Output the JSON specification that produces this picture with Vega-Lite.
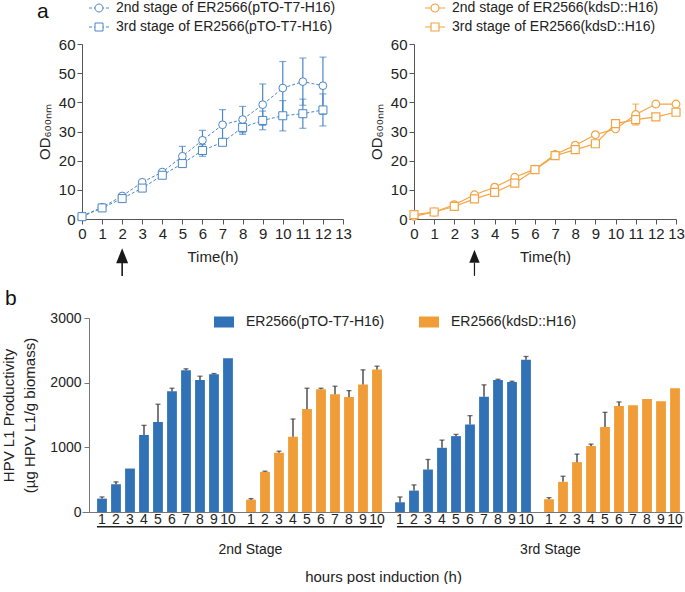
{
  "$schema": "https://vega.github.io/schema/vega-lite/v6.json",
  "padding": {"left": 1, "top": 1, "right": 0, "bottom": 0},
  "background": "white",
  "config": {
    "font": "Liberation Sans",
    "view": {"stroke": null},
    "axis": {"grid": false, "labelFont": "Liberation Sans", "titleFont": "Liberation Sans", "titleFontWeight": "normal", "labelColor": "#222", "titleColor": "#222", "domainColor": "#555", "tickColor": "#555", "tickSize": 5, "labelFlush": false, "labelOverlap": false},
    "legend": {"labelFont": "Liberation Sans", "labelColor": "#222"},
    "title": {"font": "Liberation Sans", "fontWeight": "normal", "color": "#111"}
  },
  "datasets": {
    "induction": [
      {"panel": "pTO", "time": 2},
      {"panel": "kds", "time": 3}
    ],
    "growth": [
      {"panel": "pTO", "stage": "2nd", "series": "2nd stage of ER2566(pTO-T7-H16)", "time": 0, "od": 1.0, "lo": 0.7, "hi": 1.3},
      {"panel": "pTO", "stage": "2nd", "series": "2nd stage of ER2566(pTO-T7-H16)", "time": 1, "od": 4.0, "lo": 3.6, "hi": 4.4},
      {"panel": "pTO", "stage": "2nd", "series": "2nd stage of ER2566(pTO-T7-H16)", "time": 2, "od": 7.9, "lo": 7.4, "hi": 8.4},
      {"panel": "pTO", "stage": "2nd", "series": "2nd stage of ER2566(pTO-T7-H16)", "time": 3, "od": 12.6, "lo": 12.1, "hi": 13.1},
      {"panel": "pTO", "stage": "2nd", "series": "2nd stage of ER2566(pTO-T7-H16)", "time": 4, "od": 16.1, "lo": 15.6, "hi": 16.6},
      {"panel": "pTO", "stage": "2nd", "series": "2nd stage of ER2566(pTO-T7-H16)", "time": 5, "od": 21.5, "lo": 18.1, "hi": 24.9},
      {"panel": "pTO", "stage": "2nd", "series": "2nd stage of ER2566(pTO-T7-H16)", "time": 6, "od": 27.0, "lo": 23.6, "hi": 30.4},
      {"panel": "pTO", "stage": "2nd", "series": "2nd stage of ER2566(pTO-T7-H16)", "time": 7, "od": 32.3, "lo": 27.1, "hi": 37.5},
      {"panel": "pTO", "stage": "2nd", "series": "2nd stage of ER2566(pTO-T7-H16)", "time": 8, "od": 34.1, "lo": 29.6, "hi": 38.6},
      {"panel": "pTO", "stage": "2nd", "series": "2nd stage of ER2566(pTO-T7-H16)", "time": 9, "od": 39.2, "lo": 32.1, "hi": 46.3},
      {"panel": "pTO", "stage": "2nd", "series": "2nd stage of ER2566(pTO-T7-H16)", "time": 10, "od": 44.9, "lo": 35.8, "hi": 54.0},
      {"panel": "pTO", "stage": "2nd", "series": "2nd stage of ER2566(pTO-T7-H16)", "time": 11, "od": 47.1, "lo": 39.0, "hi": 55.2},
      {"panel": "pTO", "stage": "2nd", "series": "2nd stage of ER2566(pTO-T7-H16)", "time": 12, "od": 45.7, "lo": 35.9, "hi": 55.5},
      {"panel": "pTO", "stage": "3rd", "series": "3rd stage of ER2566(pTO-T7-H16)", "time": 0, "od": 0.8, "lo": 0.5, "hi": 1.1},
      {"panel": "pTO", "stage": "3rd", "series": "3rd stage of ER2566(pTO-T7-H16)", "time": 1, "od": 3.8, "lo": 3.5, "hi": 4.1},
      {"panel": "pTO", "stage": "3rd", "series": "3rd stage of ER2566(pTO-T7-H16)", "time": 2, "od": 7.0, "lo": 6.6, "hi": 7.4},
      {"panel": "pTO", "stage": "3rd", "series": "3rd stage of ER2566(pTO-T7-H16)", "time": 3, "od": 10.6, "lo": 10.1, "hi": 11.1},
      {"panel": "pTO", "stage": "3rd", "series": "3rd stage of ER2566(pTO-T7-H16)", "time": 4, "od": 15.0, "lo": 14.5, "hi": 15.5},
      {"panel": "pTO", "stage": "3rd", "series": "3rd stage of ER2566(pTO-T7-H16)", "time": 5, "od": 19.0, "lo": 18.0, "hi": 20.0},
      {"panel": "pTO", "stage": "3rd", "series": "3rd stage of ER2566(pTO-T7-H16)", "time": 6, "od": 23.5, "lo": 21.5, "hi": 25.5},
      {"panel": "pTO", "stage": "3rd", "series": "3rd stage of ER2566(pTO-T7-H16)", "time": 7, "od": 26.3, "lo": 25.5, "hi": 27.1},
      {"panel": "pTO", "stage": "3rd", "series": "3rd stage of ER2566(pTO-T7-H16)", "time": 8, "od": 31.4, "lo": 29.0, "hi": 33.8},
      {"panel": "pTO", "stage": "3rd", "series": "3rd stage of ER2566(pTO-T7-H16)", "time": 9, "od": 33.8, "lo": 30.6, "hi": 37.0},
      {"panel": "pTO", "stage": "3rd", "series": "3rd stage of ER2566(pTO-T7-H16)", "time": 10, "od": 35.4, "lo": 30.2, "hi": 40.6},
      {"panel": "pTO", "stage": "3rd", "series": "3rd stage of ER2566(pTO-T7-H16)", "time": 11, "od": 36.1, "lo": 31.1, "hi": 41.1},
      {"panel": "pTO", "stage": "3rd", "series": "3rd stage of ER2566(pTO-T7-H16)", "time": 12, "od": 37.4, "lo": 31.9, "hi": 42.9},
      {"panel": "kds", "stage": "2nd", "series": "2nd stage of ER2566(kdsD::H16)", "time": 0, "od": 0.9, "lo": 0.6, "hi": 1.2},
      {"panel": "kds", "stage": "2nd", "series": "2nd stage of ER2566(kdsD::H16)", "time": 1, "od": 2.4, "lo": 2.1, "hi": 2.7},
      {"panel": "kds", "stage": "2nd", "series": "2nd stage of ER2566(kdsD::H16)", "time": 2, "od": 4.9, "lo": 4.6, "hi": 5.2},
      {"panel": "kds", "stage": "2nd", "series": "2nd stage of ER2566(kdsD::H16)", "time": 3, "od": 8.3, "lo": 8.0, "hi": 8.6},
      {"panel": "kds", "stage": "2nd", "series": "2nd stage of ER2566(kdsD::H16)", "time": 4, "od": 10.9, "lo": 10.6, "hi": 11.2},
      {"panel": "kds", "stage": "2nd", "series": "2nd stage of ER2566(kdsD::H16)", "time": 5, "od": 14.3, "lo": 14.0, "hi": 14.6},
      {"panel": "kds", "stage": "2nd", "series": "2nd stage of ER2566(kdsD::H16)", "time": 6, "od": 17.1, "lo": 16.8, "hi": 17.4},
      {"panel": "kds", "stage": "2nd", "series": "2nd stage of ER2566(kdsD::H16)", "time": 7, "od": 22.1, "lo": 21.3, "hi": 22.9},
      {"panel": "kds", "stage": "2nd", "series": "2nd stage of ER2566(kdsD::H16)", "time": 8, "od": 25.3, "lo": 24.5, "hi": 26.1},
      {"panel": "kds", "stage": "2nd", "series": "2nd stage of ER2566(kdsD::H16)", "time": 9, "od": 28.9, "lo": 28.5, "hi": 29.3},
      {"panel": "kds", "stage": "2nd", "series": "2nd stage of ER2566(kdsD::H16)", "time": 10, "od": 30.9, "lo": 30.3, "hi": 31.5},
      {"panel": "kds", "stage": "2nd", "series": "2nd stage of ER2566(kdsD::H16)", "time": 11, "od": 35.8, "lo": 32.2, "hi": 39.4},
      {"panel": "kds", "stage": "2nd", "series": "2nd stage of ER2566(kdsD::H16)", "time": 12, "od": 39.4, "lo": 39.1, "hi": 39.7},
      {"panel": "kds", "stage": "2nd", "series": "2nd stage of ER2566(kdsD::H16)", "time": 13, "od": 39.4, "lo": 39.1, "hi": 39.7},
      {"panel": "kds", "stage": "3rd", "series": "3rd stage of ER2566(kdsD::H16)", "time": 0, "od": 1.5, "lo": 1.2, "hi": 1.8},
      {"panel": "kds", "stage": "3rd", "series": "3rd stage of ER2566(kdsD::H16)", "time": 1, "od": 2.4, "lo": 2.1, "hi": 2.7},
      {"panel": "kds", "stage": "3rd", "series": "3rd stage of ER2566(kdsD::H16)", "time": 2, "od": 4.3, "lo": 4.0, "hi": 4.6},
      {"panel": "kds", "stage": "3rd", "series": "3rd stage of ER2566(kdsD::H16)", "time": 3, "od": 6.9, "lo": 6.6, "hi": 7.2},
      {"panel": "kds", "stage": "3rd", "series": "3rd stage of ER2566(kdsD::H16)", "time": 4, "od": 9.1, "lo": 8.8, "hi": 9.4},
      {"panel": "kds", "stage": "3rd", "series": "3rd stage of ER2566(kdsD::H16)", "time": 5, "od": 12.3, "lo": 12.0, "hi": 12.6},
      {"panel": "kds", "stage": "3rd", "series": "3rd stage of ER2566(kdsD::H16)", "time": 6, "od": 16.9, "lo": 16.6, "hi": 17.2},
      {"panel": "kds", "stage": "3rd", "series": "3rd stage of ER2566(kdsD::H16)", "time": 7, "od": 21.7, "lo": 21.0, "hi": 22.4},
      {"panel": "kds", "stage": "3rd", "series": "3rd stage of ER2566(kdsD::H16)", "time": 8, "od": 23.8, "lo": 23.2, "hi": 24.4},
      {"panel": "kds", "stage": "3rd", "series": "3rd stage of ER2566(kdsD::H16)", "time": 9, "od": 25.8, "lo": 25.4, "hi": 26.2},
      {"panel": "kds", "stage": "3rd", "series": "3rd stage of ER2566(kdsD::H16)", "time": 10, "od": 32.7, "lo": 32.0, "hi": 33.4},
      {"panel": "kds", "stage": "3rd", "series": "3rd stage of ER2566(kdsD::H16)", "time": 11, "od": 34.1, "lo": 32.6, "hi": 35.6},
      {"panel": "kds", "stage": "3rd", "series": "3rd stage of ER2566(kdsD::H16)", "time": 12, "od": 35.0, "lo": 34.7, "hi": 35.3},
      {"panel": "kds", "stage": "3rd", "series": "3rd stage of ER2566(kdsD::H16)", "time": 13, "od": 36.6, "lo": 36.3, "hi": 36.9}
    ],
    "prod": [
      {"stage": "2nd Stage", "strain": "ER2566(pTO-T7-H16)", "grp": "2nd|pTO", "hour": 1, "value": 207, "hi": 233},
      {"stage": "2nd Stage", "strain": "ER2566(pTO-T7-H16)", "grp": "2nd|pTO", "hour": 2, "value": 429, "hi": 466},
      {"stage": "2nd Stage", "strain": "ER2566(pTO-T7-H16)", "grp": "2nd|pTO", "hour": 3, "value": 672, "hi": null},
      {"stage": "2nd Stage", "strain": "ER2566(pTO-T7-H16)", "grp": "2nd|pTO", "hour": 4, "value": 1190, "hi": 1340},
      {"stage": "2nd Stage", "strain": "ER2566(pTO-T7-H16)", "grp": "2nd|pTO", "hour": 5, "value": 1391, "hi": 1666},
      {"stage": "2nd Stage", "strain": "ER2566(pTO-T7-H16)", "grp": "2nd|pTO", "hour": 6, "value": 1867, "hi": 1914},
      {"stage": "2nd Stage", "strain": "ER2566(pTO-T7-H16)", "grp": "2nd|pTO", "hour": 7, "value": 2193, "hi": 2214},
      {"stage": "2nd Stage", "strain": "ER2566(pTO-T7-H16)", "grp": "2nd|pTO", "hour": 8, "value": 2043, "hi": 2100},
      {"stage": "2nd Stage", "strain": "ER2566(pTO-T7-H16)", "grp": "2nd|pTO", "hour": 9, "value": 2131, "hi": 2141},
      {"stage": "2nd Stage", "strain": "ER2566(pTO-T7-H16)", "grp": "2nd|pTO", "hour": 10, "value": 2379, "hi": null},
      {"stage": "2nd Stage", "strain": "ER2566(kdsD::H16)", "grp": "2nd|kds", "hour": 1, "value": 191, "hi": 207},
      {"stage": "2nd Stage", "strain": "ER2566(kdsD::H16)", "grp": "2nd|kds", "hour": 2, "value": 621, "hi": 631},
      {"stage": "2nd Stage", "strain": "ER2566(kdsD::H16)", "grp": "2nd|kds", "hour": 3, "value": 916, "hi": 941},
      {"stage": "2nd Stage", "strain": "ER2566(kdsD::H16)", "grp": "2nd|kds", "hour": 4, "value": 1164, "hi": 1438},
      {"stage": "2nd Stage", "strain": "ER2566(kdsD::H16)", "grp": "2nd|kds", "hour": 5, "value": 1593, "hi": 1914},
      {"stage": "2nd Stage", "strain": "ER2566(kdsD::H16)", "grp": "2nd|kds", "hour": 6, "value": 1898, "hi": 1914},
      {"stage": "2nd Stage", "strain": "ER2566(kdsD::H16)", "grp": "2nd|kds", "hour": 7, "value": 1821, "hi": 1945},
      {"stage": "2nd Stage", "strain": "ER2566(kdsD::H16)", "grp": "2nd|kds", "hour": 8, "value": 1779, "hi": 1877},
      {"stage": "2nd Stage", "strain": "ER2566(kdsD::H16)", "grp": "2nd|kds", "hour": 9, "value": 1971, "hi": 2198},
      {"stage": "2nd Stage", "strain": "ER2566(kdsD::H16)", "grp": "2nd|kds", "hour": 10, "value": 2203, "hi": 2255},
      {"stage": "3rd Stage", "strain": "ER2566(pTO-T7-H16)", "grp": "3rd|pTO", "hour": 1, "value": 150, "hi": 233},
      {"stage": "3rd Stage", "strain": "ER2566(pTO-T7-H16)", "grp": "3rd|pTO", "hour": 2, "value": 331, "hi": 419},
      {"stage": "3rd Stage", "strain": "ER2566(pTO-T7-H16)", "grp": "3rd|pTO", "hour": 3, "value": 657, "hi": 812},
      {"stage": "3rd Stage", "strain": "ER2566(pTO-T7-H16)", "grp": "3rd|pTO", "hour": 4, "value": 993, "hi": 1112},
      {"stage": "3rd Stage", "strain": "ER2566(pTO-T7-H16)", "grp": "3rd|pTO", "hour": 5, "value": 1174, "hi": 1200},
      {"stage": "3rd Stage", "strain": "ER2566(pTO-T7-H16)", "grp": "3rd|pTO", "hour": 6, "value": 1355, "hi": 1490},
      {"stage": "3rd Stage", "strain": "ER2566(pTO-T7-H16)", "grp": "3rd|pTO", "hour": 7, "value": 1784, "hi": 1966},
      {"stage": "3rd Stage", "strain": "ER2566(pTO-T7-H16)", "grp": "3rd|pTO", "hour": 8, "value": 2043, "hi": 2053},
      {"stage": "3rd Stage", "strain": "ER2566(pTO-T7-H16)", "grp": "3rd|pTO", "hour": 9, "value": 2012, "hi": 2022},
      {"stage": "3rd Stage", "strain": "ER2566(pTO-T7-H16)", "grp": "3rd|pTO", "hour": 10, "value": 2353, "hi": 2405},
      {"stage": "3rd Stage", "strain": "ER2566(kdsD::H16)", "grp": "3rd|kds", "hour": 1, "value": 197, "hi": 222},
      {"stage": "3rd Stage", "strain": "ER2566(kdsD::H16)", "grp": "3rd|kds", "hour": 2, "value": 466, "hi": 553},
      {"stage": "3rd Stage", "strain": "ER2566(kdsD::H16)", "grp": "3rd|kds", "hour": 3, "value": 771, "hi": 895},
      {"stage": "3rd Stage", "strain": "ER2566(kdsD::H16)", "grp": "3rd|kds", "hour": 4, "value": 1019, "hi": 1050},
      {"stage": "3rd Stage", "strain": "ER2566(kdsD::H16)", "grp": "3rd|kds", "hour": 5, "value": 1314, "hi": 1541},
      {"stage": "3rd Stage", "strain": "ER2566(kdsD::H16)", "grp": "3rd|kds", "hour": 6, "value": 1640, "hi": 1702},
      {"stage": "3rd Stage", "strain": "ER2566(kdsD::H16)", "grp": "3rd|kds", "hour": 7, "value": 1650, "hi": null},
      {"stage": "3rd Stage", "strain": "ER2566(kdsD::H16)", "grp": "3rd|kds", "hour": 8, "value": 1748, "hi": null},
      {"stage": "3rd Stage", "strain": "ER2566(kdsD::H16)", "grp": "3rd|kds", "hour": 9, "value": 1712, "hi": null},
      {"stage": "3rd Stage", "strain": "ER2566(kdsD::H16)", "grp": "3rd|kds", "hour": 10, "value": 1914, "hi": null}
    ]
  },
  "vconcat": [
    {
      "hconcat": [
        {
          "width": 261,
          "height": 175,
          "title": {"text": "a", "anchor": "start", "frame": "group", "dx": -45, "dy": 35, "fontSize": 21, "offset": 14},
          "layer": [
            {
              "data": {"name": "growth"},
              "transform": [{"filter": "datum.panel == 'pTO'"}],
              "encoding": {
                "x": {"field": "time", "type": "quantitative", "title": "Time(h)", "scale": {"domain": [0, 13]}, "axis": {"values": [0, 1, 2, 3, 4, 5, 6, 7, 8, 9, 10, 11, 12, 13], "labelFontSize": 15, "titleFontSize": 15, "labelPadding": 2, "titlePadding": 8}},
                "y": {"field": "od", "type": "quantitative", "title": "OD₆₀₀ₙₘ", "scale": {"domain": [0, 60]}, "axis": {"values": [0, 10, 20, 30, 40, 50, 60], "labelFontSize": 15, "titleFontSize": 15, "labelPadding": 2, "titlePadding": 6}}
              },
              "layer": [
                {"mark": {"type": "line", "color": "#4a86c8", "strokeWidth": 1, "strokeDash": [3, 2]}, "encoding": {"detail": {"field": "stage"}}},
                {"mark": {"type": "rule", "color": "#4a86c8", "strokeWidth": 1.2}, "encoding": {"y": {"field": "lo", "type": "quantitative", "title": "OD₆₀₀ₙₘ", "scale": {"domain": [0, 60]}, "axis": {"values": [0, 10, 20, 30, 40, 50, 60], "labelFontSize": 15, "titleFontSize": 15, "labelPadding": 2, "titlePadding": 6}}, "y2": {"field": "hi"}}},
                {"mark": {"type": "tick", "orient": "horizontal", "color": "#4a86c8", "size": 7, "thickness": 1.2}, "encoding": {"y": {"field": "lo", "type": "quantitative", "title": "OD₆₀₀ₙₘ", "scale": {"domain": [0, 60]}, "axis": {"values": [0, 10, 20, 30, 40, 50, 60], "labelFontSize": 15, "titleFontSize": 15, "labelPadding": 2, "titlePadding": 6}}}},
                {"mark": {"type": "tick", "orient": "horizontal", "color": "#4a86c8", "size": 7, "thickness": 1.2}, "encoding": {"y": {"field": "hi", "type": "quantitative", "title": "OD₆₀₀ₙₘ", "scale": {"domain": [0, 60]}, "axis": {"values": [0, 10, 20, 30, 40, 50, 60], "labelFontSize": 15, "titleFontSize": 15, "labelPadding": 2, "titlePadding": 6}}}},
                {"transform": [{"filter": "datum.stage == '2nd'"}], "mark": {"type": "point", "shape": "circle", "filled": true, "fill": "white", "stroke": "#4a86c8", "strokeWidth": 1, "size": 60, "opacity": 1}},
                {"transform": [{"filter": "datum.stage == '3rd'"}], "mark": {"type": "point", "shape": "square", "filled": true, "fill": "white", "stroke": "#4a86c8", "strokeWidth": 1, "size": 64, "opacity": 1}},
                {"transform": [{"filter": "false"}], "mark": {"type": "point", "filled": false, "color": "#4a86c8", "strokeWidth": 1, "opacity": 1},
                 "encoding": {"shape": {"field": "series", "type": "nominal",
                   "scale": {"domain": ["2nd stage of ER2566(pTO-T7-H16)", "3rd stage of ER2566(pTO-T7-H16)"],
                             "range": ["M-2,0H-1.4M-1,0H-0.8M0.8,0H1M1.4,0H2M0.8,0A0.8,0.8,0,1,1,-0.8,0A0.8,0.8,0,1,1,0.8,0", "M-2,0H-1.4M-1,0H-0.8M0.8,0H1M1.4,0H2M-0.8,-0.8H0.8V0.8H-0.8Z"]},
                   "legend": {"orient": "none", "legendX": 10, "legendY": -43, "title": null, "symbolSize": 100, "symbolStrokeColor": "#4a86c8", "symbolStrokeWidth": 1, "symbolOpacity": 1, "labelFontSize": 14, "labelOffset": 10, "rowPadding": 5, "labelLimit": 400}}}}
              ]
            },
            {
              "data": {"name": "induction"},
              "transform": [{"filter": "datum.panel == 'pTO'"}],
              "encoding": {
                "x": {"field": "time", "type": "quantitative", "title": "Time(h)", "scale": {"domain": [0, 13]}, "axis": {"values": [0, 1, 2, 3, 4, 5, 6, 7, 8, 9, 10, 11, 12, 13], "labelFontSize": 15, "titleFontSize": 15, "labelPadding": 2, "titlePadding": 8}}
              },
              "layer": [
                {"mark": {"type": "rule", "color": "#1a1a1a", "strokeWidth": 1.6},
                 "encoding": {"y": {"datum": -15, "type": "quantitative", "title": "OD₆₀₀ₙₘ", "scale": {"domain": [0, 60]}, "axis": {"values": [0, 10, 20, 30, 40, 50, 60], "labelFontSize": 15, "titleFontSize": 15, "labelPadding": 2, "titlePadding": 6}}, "y2": {"datum": -19.5}}},
                {"mark": {"type": "point", "shape": "M0,-1L0.8,1L-0.8,1Z", "filled": true, "color": "#1a1a1a", "size": 225, "opacity": 1},
                 "encoding": {"y": {"datum": -12.6, "type": "quantitative", "title": "OD₆₀₀ₙₘ", "scale": {"domain": [0, 60]}, "axis": {"values": [0, 10, 20, 30, 40, 50, 60], "labelFontSize": 15, "titleFontSize": 15, "labelPadding": 2, "titlePadding": 6}}}}
              ]
            }
          ]
        },
        {
          "width": 262,
          "height": 175,
          "layer": [
            {
              "data": {"name": "growth"},
              "transform": [{"filter": "datum.panel == 'kds'"}],
              "encoding": {
                "x": {"field": "time", "type": "quantitative", "title": "Time(h)", "scale": {"domain": [0, 13]}, "axis": {"values": [0, 1, 2, 3, 4, 5, 6, 7, 8, 9, 10, 11, 12, 13], "labelFontSize": 15, "titleFontSize": 15, "labelPadding": 2, "titlePadding": 8}},
                "y": {"field": "od", "type": "quantitative", "title": "OD₆₀₀ₙₘ", "scale": {"domain": [0, 60]}, "axis": {"values": [0, 10, 20, 30, 40, 50, 60], "labelFontSize": 15, "titleFontSize": 15, "labelPadding": 2, "titlePadding": 6}}
              },
              "layer": [
                {"mark": {"type": "line", "color": "#f3a444", "strokeWidth": 1.2}, "encoding": {"detail": {"field": "stage"}}},
                {"mark": {"type": "rule", "color": "#f3a444", "strokeWidth": 1.2}, "encoding": {"y": {"field": "lo", "type": "quantitative", "title": "OD₆₀₀ₙₘ", "scale": {"domain": [0, 60]}, "axis": {"values": [0, 10, 20, 30, 40, 50, 60], "labelFontSize": 15, "titleFontSize": 15, "labelPadding": 2, "titlePadding": 6}}, "y2": {"field": "hi"}}},
                {"mark": {"type": "tick", "orient": "horizontal", "color": "#f3a444", "size": 7, "thickness": 1.2}, "encoding": {"y": {"field": "lo", "type": "quantitative", "title": "OD₆₀₀ₙₘ", "scale": {"domain": [0, 60]}, "axis": {"values": [0, 10, 20, 30, 40, 50, 60], "labelFontSize": 15, "titleFontSize": 15, "labelPadding": 2, "titlePadding": 6}}}},
                {"mark": {"type": "tick", "orient": "horizontal", "color": "#f3a444", "size": 7, "thickness": 1.2}, "encoding": {"y": {"field": "hi", "type": "quantitative", "title": "OD₆₀₀ₙₘ", "scale": {"domain": [0, 60]}, "axis": {"values": [0, 10, 20, 30, 40, 50, 60], "labelFontSize": 15, "titleFontSize": 15, "labelPadding": 2, "titlePadding": 6}}}},
                {"transform": [{"filter": "datum.stage == '2nd'"}], "mark": {"type": "point", "shape": "circle", "filled": true, "fill": "white", "stroke": "#f3a444", "strokeWidth": 1.2, "size": 60, "opacity": 1}},
                {"transform": [{"filter": "datum.stage == '3rd'"}], "mark": {"type": "point", "shape": "square", "filled": true, "fill": "white", "stroke": "#f3a444", "strokeWidth": 1.2, "size": 64, "opacity": 1}},
                {"transform": [{"filter": "false"}], "mark": {"type": "point", "filled": false, "color": "#f3a444", "strokeWidth": 1.2, "opacity": 1},
                 "encoding": {"shape": {"field": "series", "type": "nominal",
                   "scale": {"domain": ["2nd stage of ER2566(kdsD::H16)", "3rd stage of ER2566(kdsD::H16)"],
                             "range": ["M-2,0H-0.8M0.8,0H2M0.8,0A0.8,0.8,0,1,1,-0.8,0A0.8,0.8,0,1,1,0.8,0", "M-2,0H-0.8M0.8,0H2M-0.8,-0.8H0.8V0.8H-0.8Z"]},
                   "legend": {"orient": "none", "legendX": 14, "legendY": -43, "title": null, "symbolSize": 100, "symbolStrokeColor": "#f3a444", "symbolStrokeWidth": 1.2, "symbolOpacity": 1, "labelFontSize": 14, "labelOffset": 10, "rowPadding": 5, "labelLimit": 400}}}}
              ]
            },
            {
              "data": {"name": "induction"},
              "transform": [{"filter": "datum.panel == 'kds'"}],
              "encoding": {
                "x": {"field": "time", "type": "quantitative", "title": "Time(h)", "scale": {"domain": [0, 13]}, "axis": {"values": [0, 1, 2, 3, 4, 5, 6, 7, 8, 9, 10, 11, 12, 13], "labelFontSize": 15, "titleFontSize": 15, "labelPadding": 2, "titlePadding": 8}}
              },
              "layer": [
                {"mark": {"type": "rule", "color": "#1a1a1a", "strokeWidth": 1.2},
                 "encoding": {"y": {"datum": -15, "type": "quantitative", "title": "OD₆₀₀ₙₘ", "scale": {"domain": [0, 60]}, "axis": {"values": [0, 10, 20, 30, 40, 50, 60], "labelFontSize": 15, "titleFontSize": 15, "labelPadding": 2, "titlePadding": 6}}, "y2": {"datum": -19.5}}},
                {"mark": {"type": "point", "shape": "M0,-1L0.8,1L-0.8,1Z", "filled": true, "color": "#1a1a1a", "size": 170, "opacity": 1},
                 "encoding": {"y": {"datum": -12.8, "type": "quantitative", "title": "OD₆₀₀ₙₘ", "scale": {"domain": [0, 60]}, "axis": {"values": [0, 10, 20, 30, 40, 50, 60], "labelFontSize": 15, "titleFontSize": 15, "labelPadding": 2, "titlePadding": 6}}}}
              ]
            }
          ]
        }
      ],
      "spacing": 71,
      "bounds": "flush",
      "resolve": {"scale": {"shape": "independent"}, "legend": {"shape": "independent"}}
    },
    {
      "width": 602,
      "height": 194,
      "title": {"text": "b", "anchor": "start", "frame": "group", "dx": -77, "dy": 2, "fontSize": 21, "offset": 4},
      "layer": [
        {
          "data": {"name": "prod"},
          "encoding": {
            "x": {"field": "grp", "type": "nominal", "scale": {"domain": ["2nd|pTO", "2nd|kds", "3rd|pTO", "3rd|kds"], "paddingInner": 0.0604, "paddingOuter": 0.0503, "align": 0.867}, "axis": {"labels": false, "ticks": false, "title": null, "domainColor": "#777"}},
            "xOffset": {"field": "hour", "type": "ordinal", "scale": {"paddingInner": 0.3, "paddingOuter": 0.15}}
          },
          "layer": [
            {"mark": {"type": "bar"},
             "encoding": {
               "y": {"field": "value", "type": "quantitative", "title": ["HPV L1 Productivity", "(µg HPV L1/g biomass)"], "scale": {"domain": [0, 3000]},
                     "axis": {"values": [0, 1000, 2000, 3000], "format": "d", "offset": -7, "labelFontSize": 14, "labelPadding": 3, "titleFontSize": 15, "titlePadding": 12, "titleLineHeight": 21, "domainColor": "#777", "tickColor": "#777"}},
               "color": {"field": "strain", "type": "nominal", "scale": {"domain": ["ER2566(pTO-T7-H16)", "ER2566(kdsD::H16)"], "range": ["#3171b6", "#f09c37"]},
                         "legend": {"orient": "none", "legendX": 132, "legendY": -6, "direction": "horizontal", "title": null, "symbolType": "M-1,-0.55H1V0.55H-1Z", "symbolSize": 400, "symbolStrokeWidth": 0, "labelFontSize": 14, "labelOffset": 12, "columnPadding": 34, "labelLimit": 300}}
             }},
            {"transform": [{"filter": "datum.hi != null"}], "mark": {"type": "rule", "color": "#333", "strokeWidth": 1.3},
             "encoding": {"y": {"field": "value", "type": "quantitative", "title": ["HPV L1 Productivity", "(µg HPV L1/g biomass)"], "scale": {"domain": [0, 3000]}}, "y2": {"field": "hi"}}},
            {"transform": [{"filter": "datum.hi != null"}], "mark": {"type": "tick", "orient": "horizontal", "color": "#333", "size": 5, "thickness": 1.3},
             "encoding": {"y": {"field": "hi", "type": "quantitative", "title": ["HPV L1 Productivity", "(µg HPV L1/g biomass)"], "scale": {"domain": [0, 3000]}}}},
            {"mark": {"type": "text", "fontSize": 14, "baseline": "middle", "color": "#222"},
             "encoding": {"y": {"datum": -124, "type": "quantitative", "scale": {"domain": [0, 3000]}}, "text": {"field": "hour", "type": "ordinal"}}}
          ]
        },
        {
          "data": {"name": "prod"},
          "transform": [{"aggregate": [{"op": "count", "as": "n"}], "groupby": ["stage"]}],
          "mark": {"type": "bar", "color": "#222"},
          "encoding": {
            "x": {"field": "stage", "type": "nominal", "scale": {"domain": ["2nd Stage", "3rd Stage"], "paddingInner": 0.05, "paddingOuter": 0.0283, "align": 0.88},
                  "axis": {"orient": "bottom", "offset": 30, "domain": false, "ticks": false, "labelPadding": 0, "labelBaseline": "top", "labelFontSize": 14, "labelOffset": 11, "labelAngle": 0, "title": "hours post induction (h)", "titleFontSize": 15, "titlePadding": 13}},
            "y": {"datum": -215, "type": "quantitative", "scale": {"domain": [0, 3000]}},
            "y2": {"datum": -240}
          }
        }
      ],
      "resolve": {"scale": {"x": "independent"}, "axis": {"x": "independent"}}
    }
  ],
  "spacing": 274,
  "bounds": "flush",
  "resolve": {"scale": {"color": "independent", "shape": "independent"}, "legend": {"color": "independent", "shape": "independent"}}
}
